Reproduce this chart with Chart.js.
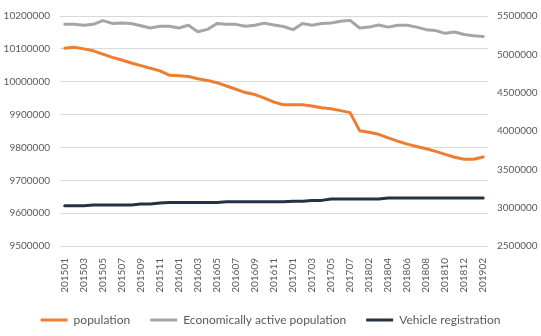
<!DOCTYPE html>
<html>
<head>
<meta charset="utf-8">
<script src="https://cdn.jsdelivr.net/npm/chart.js@4"></script>
<style>
  html, body { margin: 0; padding: 0; background: #ffffff; }
  #wrap { width: 541px; height: 336px; position: relative; }
</style>
</head>
<body>
<div id="wrap"><canvas id="c" width="541" height="336"></canvas></div>
<script>
const months = [
  "201501","201502","201503","201504","201505","201506","201507","201508","201509","201510","201511","201512",
  "201601","201602","201603","201604","201605","201606","201607","201608","201609","201610","201611","201612",
  "201701","201702","201703","201704","201705","201706","201707",
  "201801","201802","201803","201804","201805","201806","201807","201808","201809","201810","201811","201812",
  "201901","201902"
];

const population = [
  10102000, 10105000, 10100000, 10094000, 10084000, 10074000, 10066000, 10057000, 10049000, 10041000, 10033000, 10020000,
  10018000, 10016000, 10009000, 10004000, 9997000, 9987000, 9977000, 9967000, 9961000, 9950000, 9938000, 9930000,
  9930000, 9930000, 9926000, 9921000, 9918000, 9912000, 9906000,
  9851000, 9846000, 9840000, 9829000, 9819000, 9810000, 9803000, 9796000, 9788000, 9779000, 9770000, 9764000,
  9764000, 9771000
];

const economicallyActive = [
  5391000, 5391000, 5379000, 5391000, 5440000, 5403000, 5409000, 5403000, 5373000, 5343000, 5367000, 5367000,
  5343000, 5379000, 5294000, 5325000, 5403000, 5391000, 5391000, 5367000, 5379000, 5407000, 5383000, 5363000,
  5322000, 5403000, 5379000, 5403000, 5409000, 5431000, 5443000,
  5343000, 5355000, 5383000, 5355000, 5379000, 5379000, 5355000, 5322000, 5310000, 5274000, 5291000, 5258000,
  5242000, 5234000
];

const vehicleRegistration = [
  3024000, 3024000, 3024000, 3036000, 3036000, 3036000, 3036000, 3036000, 3048000, 3048000, 3060000, 3068000,
  3068000, 3068000, 3068000, 3068000, 3068000, 3076000, 3076000, 3076000, 3076000, 3076000, 3076000, 3076000,
  3084000, 3084000, 3095000, 3095000, 3113000, 3113000, 3113000,
  3113000, 3113000, 3113000, 3125000, 3125000, 3125000, 3125000, 3125000, 3125000, 3125000, 3125000, 3125000,
  3125000, 3125000
];

const seriesNames = ["population", "Economically active population", "Vehicle registration"];
const leftTicks = { min: 9500000, max: 10200000, step: 100000 };
const rightTicks = { min: 2500000, max: 5500000, step: 500000 };

const FONT = "Lato, 'Open Sans', sans-serif";
const TXT = "#595959";
const plain = function (v) { return String(v); };

new Chart(document.getElementById("c"), {
  type: "line",
  data: {
    labels: months,
    datasets: [
      { label: seriesNames[0], data: population, yAxisID: "y", borderColor: "#ED7D31", backgroundColor: "#ED7D31", borderWidth: 3 },
      { label: seriesNames[1], data: economicallyActive, yAxisID: "y1", borderColor: "#A5A5A5", backgroundColor: "#A5A5A5", borderWidth: 3 },
      { label: seriesNames[2], data: vehicleRegistration, yAxisID: "y1", borderColor: "#243244", backgroundColor: "#243244", borderWidth: 3 }
    ]
  },
  options: {
    responsive: false,
    animation: false,
    devicePixelRatio: 1,
    layout: { padding: { top: 12, left: 0, right: 0, bottom: 0 } },
    elements: {
      line: { borderWidth: 3, tension: 0, borderCapStyle: "round", borderJoinStyle: "round", fill: false },
      point: { radius: 0, hoverRadius: 0 }
    },
    plugins: {
      tooltip: { enabled: false },
      legend: {
        position: "bottom",
        labels: {
          usePointStyle: true,
          pointStyle: "line",
          pointStyleWidth: 27,
          boxHeight: 3,
          padding: 20,
          color: TXT,
          font: { family: FONT, size: 12 }
        }
      }
    },
    scales: {
      x: {
        type: "category",
        offset: true,
        grid: { display: false },
        border: { display: false },
        ticks: {
          autoSkip: false,
          maxRotation: 90,
          minRotation: 90,
          padding: 4,
          color: TXT,
          font: { family: FONT, size: 10 },
          callback: function (v, i) { return i % 2 === 0 ? this.getLabelForValue(v) : ""; }
        },
        afterFit: function (s) { s.height = 48; }
      },
      y: {
        position: "left",
        min: leftTicks.min,
        max: leftTicks.max,
        grid: { color: "#D9D9D9", lineWidth: 1, drawTicks: false },
        border: { display: false },
        ticks: { stepSize: leftTicks.step, padding: 10, color: TXT, font: { family: FONT, size: 10 }, callback: plain },
        afterFit: function (s) { s.width = 60; }
      },
      y1: {
        position: "right",
        min: rightTicks.min,
        max: rightTicks.max,
        grid: { display: false, drawTicks: false },
        border: { display: false },
        ticks: { stepSize: rightTicks.step, padding: 9, color: TXT, font: { family: FONT, size: 10 }, callback: plain },
        afterFit: function (s) { s.width = 53; }
      }
    }
  }
});
</script>
</body>
</html>
